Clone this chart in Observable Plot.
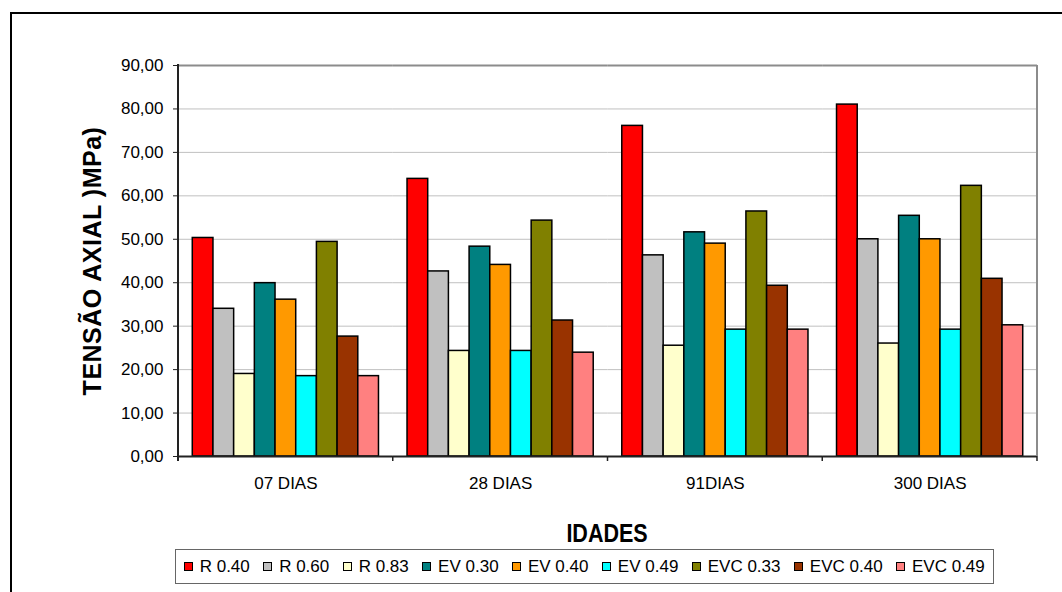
<!DOCTYPE html>
<html>
<head>
<meta charset="utf-8">
<script src="https://cdn.jsdelivr.net/npm/d3@7"></script>
<script src="https://cdn.jsdelivr.net/npm/@observablehq/plot@0.6"></script>
<style>
html, body { margin:0; padding:0; width:1062px; height:592px; overflow:hidden; background:#fff; font-family:"Liberation Sans", Arial, sans-serif; }
#frame { position:absolute; left:10px; top:12px; width:1100px; height:700px; border:2px solid #000; box-sizing:border-box; pointer-events:none; z-index:5; }
#chart { position:absolute; left:0; top:0; }
#ytitle { position:absolute; left:92px; top:261px; transform:translate(-50%,-50%) rotate(-90deg); font-weight:bold; font-size:25px; letter-spacing:0.5px; white-space:nowrap; }
#xtitle { position:absolute; left:607px; top:521px; transform:translateX(-50%) scaleX(0.86); font-weight:bold; font-size:25px; line-height:25px; white-space:nowrap; }
#legend { position:absolute; left:175px; top:549px; width:819px; height:35px; border:1px solid #666; box-sizing:border-box; display:flex; align-items:center; justify-content:flex-start; padding-left:1px; font-size:17px; }
.item { display:flex; align-items:center; margin:0 6.7px; white-space:nowrap; }
.sw { width:9px; height:9px; border:1.5px solid #000; box-sizing:border-box; margin-right:7px; }
</style>
</head>
<body>
<div id="chart"></div>
<div id="ytitle">TENSÃO AXIAL )MPa)</div>
<div id="xtitle">IDADES</div>
<div id="legend"></div>
<div id="frame"></div>
<script>
// Categories (ages)
const groups = ["07 DIAS", "28 DIAS", "91DIAS", "300 DIAS"];
// Series names and colours
const seriesNames = ["R 0.40", "R 0.60", "R 0.83", "EV 0.30", "EV 0.40", "EV 0.49", "EVC 0.33", "EVC 0.40", "EVC 0.49"];
const seriesColors = ["#ff0000", "#c0c0c0", "#ffffcc", "#008080", "#ff9900", "#00ffff", "#808000", "#993300", "#ff8080"];
// Series values (MPa) per age
const r040   = [50.3, 63.9, 76.1, 81.0];
const r060   = [34.0, 42.6, 46.3, 50.0];
const r083   = [19.0, 24.3, 25.5, 26.0];
const ev030  = [39.9, 48.3, 51.6, 55.4];
const ev040  = [36.1, 44.1, 49.0, 50.0];
const ev049  = [18.5, 24.3, 29.2, 29.2];
const evc033 = [49.4, 54.3, 56.4, 62.3];
const evc040 = [27.6, 31.3, 39.3, 40.9];
const evc049 = [18.5, 23.9, 29.2, 30.2];
// Y tick values
const yTicks = [0, 10, 20, 30, 40, 50, 60, 70, 80, 90];

const seriesValues = [r040, r060, r083, ev030, ev040, ev049, evc033, evc040, evc049];
const data = [];
seriesNames.forEach((s, i) => {
  groups.forEach((g, j) => data.push({group: g, series: s, value: seriesValues[i][j]}));
});

const plot = Plot.plot({
  width: 1062,
  height: 500,
  marginLeft: 178,
  marginRight: 25,
  marginTop: 65,
  marginBottom: 44,
  style: {fontFamily: "'Liberation Sans', Arial, sans-serif", fontSize: "17px", background: "transparent", color: "#000"},
  fx: {domain: groups, padding: 0, label: null, round: false},
  x: {domain: seriesNames, paddingInner: 0, paddingOuter: 0.69, round: false, axis: null},
  y: {domain: [0, 90], label: null},
  color: {domain: seriesNames, range: seriesColors},
  marks: [
    Plot.gridY(yTicks, {stroke: "#c0c0c0", strokeOpacity: 1, strokeWidth: 1}),
    Plot.barY(data, {fx: "group", x: "series", y: "value", fill: "series", stroke: "#000", strokeWidth: 1.5, inset: 0}),
    Plot.ruleY([90], {stroke: "#8c8c8c", strokeWidth: 2}),
    Plot.ruleY([0], {stroke: "#222", strokeWidth: 2}),
    Plot.axisY({ticks: yTicks, tickFormat: d => d.toFixed(2).replace(".", ","), tickSize: 5, tickPadding: 10, label: null, fontSize: 17, stroke: "#222"}),
    Plot.axisFx({anchor: "bottom", tickSize: 0, tickPadding: 20, label: null, fontSize: 17})
  ]
});
document.getElementById("chart").appendChild(plot);

// Axis line, right border and category boundary ticks from the plot's own scales
const fx = plot.scale("fx");
const ys = plot.scale("y");
const svg = d3.select(plot);
const xLeft = fx.range[0], xRight = fx.range[1];
const y0 = ys.apply(0), yTop = ys.apply(90);
svg.append("line").attr("x1", xRight).attr("x2", xRight).attr("y1", yTop).attr("y2", y0)
  .attr("stroke", "#8c8c8c").attr("stroke-width", 2);
svg.append("line").attr("x1", xLeft).attr("x2", xLeft).attr("y1", yTop - 1).attr("y2", y0 + 5)
  .attr("stroke", "#222").attr("stroke-width", 2);
const bounds = groups.map(g => fx.apply(g)).concat([xRight]);
bounds.forEach(b => {
  svg.append("line").attr("x1", b).attr("x2", b).attr("y1", y0).attr("y2", y0 + 5)
    .attr("stroke", "#222").attr("stroke-width", 1.5);
});

// Legend
const legend = d3.select("#legend");
seriesNames.forEach((s, i) => {
  const it = legend.append("div").attr("class", "item");
  it.append("div").attr("class", "sw").style("background", seriesColors[i]);
  it.append("span").text(s);
});
</script>
</body>
</html>
